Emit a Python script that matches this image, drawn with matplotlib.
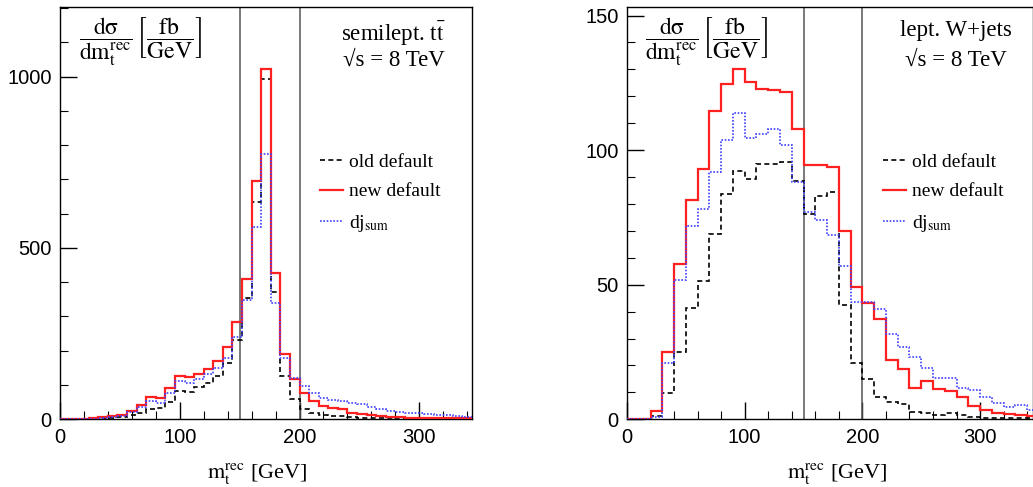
import numpy as np
import matplotlib
matplotlib.use("Agg")
import matplotlib.pyplot as plt

plt.rcParams['font.family'] = ['Liberation Serif', 'DejaVu Serif']
plt.rcParams['mathtext.fontset'] = 'stix'

# ---------------- data: semileptonic ttbar (8 GeV bins, 0..344) ----------------
tt_edges = np.arange(0, 345, 8)
tt_old = [0, 0, 0, 1, 2, 4, 6, 12, 18, 31, 33, 51, 84, 79, 95, 105, 125, 165,
          232, 353, 633, 992, 371, 125, 58, 31, 18, 12, 10, 9, 8, 5, 4, 3, 3,
          2, 2, 2, 1, 1, 1, 1, 1]
tt_new = [0, 1, 2, 3, 6, 10, 14, 25, 41, 64, 61, 90, 126, 122, 131, 147, 171,
          212, 285, 409, 694, 1022, 428, 191, 117, 78, 54, 39, 32, 29, 18, 15,
          12, 10, 8, 6, 5, 5, 4, 4, 3, 3, 3]
tt_dj = [0, 0, 1, 2, 4, 7, 10, 20, 35, 52, 47, 76, 113, 107, 117, 132, 150,
         178, 241, 348, 562, 773, 340, 178, 120, 97, 78, 63, 56, 54, 49, 44,
         35, 29, 24, 21, 19, 18, 16, 14, 12, 10, 8]

# ---------------- data: leptonic W+jets (10 GeV bins, 0..350) ----------------
wj_edges = np.arange(0, 351, 10)
wj_old = [0, 0, 1.2, 9.7, 25, 41.5, 51.5, 69, 83.8, 92.4, 89.3, 94.8, 94.9,
          95.5, 88.4, 76.3, 82.8, 84.6, 42.5, 20.8, 15, 8.4, 6.6, 5.7, 2.7,
          2.2, 1.6, 2.2, 1.6, 1.0, 0.3, 0.3, 0.3, 0.3, 0.3]
wj_new = [0, 0, 3, 25, 57.6, 81.5, 93, 114.6, 124.4, 130.2, 125.3, 122.8,
          122.2, 121.7, 107.9, 94.5, 94.4, 93.8, 70.1, 49.1, 43.1, 37.2, 22.1,
          18.6, 11.8, 14.3, 11.2, 10.5, 8.4, 5.0, 3.5, 2.2, 1.9, 1.6, 1.2]
wj_dj = [0, 0, 1, 21, 51.8, 72, 78.3, 92, 103.8, 113.8, 104.7, 106, 108, 102,
         88, 77, 73.9, 68.5, 56.8, 43.4, 43.7, 40.9, 31.6, 27, 23.3, 19.2,
         15.5, 15.5, 11.5, 10.9, 8.4, 5.9, 4.7, 5.3, 3.5]

cuts = [150, 200]
labels = ['old default', 'new default', r'dj$_{\mathrm{sum}}$']
proc_titles = [r'semilept. t$\bar{\mathrm{t}}$', 'lept. W+jets']
energy_title = '√s = 8 TeV'
ylabel_text = r'$\dfrac{\mathrm{d\sigma}}{\mathrm{dm_t^{rec}}}\,\left[\dfrac{\mathrm{fb}}{\mathrm{GeV}}\right]$'
xlabel_text = r'$\mathrm{m_t^{rec}}$ [GeV]'

fig = plt.figure(figsize=(10.33, 4.87), dpi=100)
axL = fig.add_axes([60/1033, (487-419.3)/487, 412/1033, 412.6/487])
axR = fig.add_axes([627/1033, (487-419.3)/487, 406/1033, 412.6/487])

panels = [
    (axL, tt_edges, tt_old, tt_new, tt_dj, (0, 344), (0, 1204), 500, 100, proc_titles[0], 0.478),
    (axR, wj_edges, wj_old, wj_new, wj_dj, (0, 345), (0, 153.3), 50, 10, proc_titles[1], 0.518),
]

for ax, edges, old, new, dj, xl, yl, ymaj, ymin, title, xlab_x in panels:
    ax.stairs(old, edges, color='black', lw=1.2, ls=(0, (3, 2)), label=labels[0], zorder=3)
    ax.stairs(new, edges, color='#ff2020', lw=1.6, label=labels[1], zorder=4)
    ax.stairs(dj, edges, color='#4040ff', lw=1.2, ls=(0, (1, 1)), label=labels[2], zorder=5)
    for c in cuts:
        ax.axvline(c, color='#555555', lw=1.1, zorder=2)
    ax.set_xlim(*xl)
    ax.set_ylim(*yl)
    ax.xaxis.set_major_locator(matplotlib.ticker.MultipleLocator(100))
    ax.xaxis.set_minor_locator(matplotlib.ticker.MultipleLocator(20))
    ax.yaxis.set_major_locator(matplotlib.ticker.MultipleLocator(ymaj))
    ax.yaxis.set_minor_locator(matplotlib.ticker.MultipleLocator(ymin))
    ax.tick_params(which='both', direction='in', top=False, right=False)
    ax.tick_params(which='major', length=12, width=1.0, labelsize=14.5, pad=6)
    ax.tick_params(which='minor', length=6, width=0.8)
    for t in ax.get_xticklabels() + ax.get_yticklabels():
        t.set_fontfamily('Liberation Sans')
    for sp in ax.spines.values():
        sp.set_linewidth(1.0)
    ax.set_xlabel(xlabel_text, fontsize=16)
    ax.xaxis.set_label_coords(xlab_x, -0.1)
    ax.text(0.045, 0.978, ylabel_text, transform=ax.transAxes, fontsize=17,
            ha='left', va='top')
    ax.text(0.81, 0.968, title, transform=ax.transAxes, fontsize=16.5,
            ha='center', va='top')
    ax.text(0.81, 0.895, energy_title, transform=ax.transAxes, fontsize=16.5,
            ha='center', va='top')
    ax.legend(loc='upper left', bbox_to_anchor=(0.63, 0.645), frameon=False,
              fontsize=14, handlelength=1.2, handletextpad=0.3,
              labelspacing=0.62, borderaxespad=0, borderpad=0)

fig.savefig('out.png', dpi=100)
